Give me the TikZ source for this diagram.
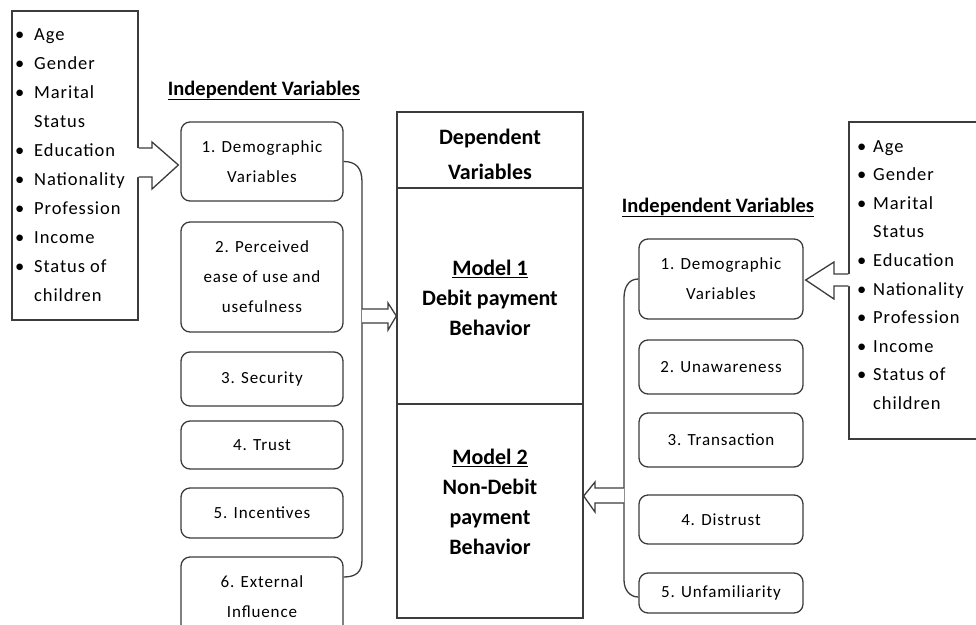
\documentclass[tikz,border=0pt]{standalone}
\usepackage{fontspec}
\setmainfont{Carlito}
\newfontfamily\lsfont{Carlito}[LetterSpace=5]
\usetikzlibrary{calc}
\definecolor{lc}{HTML}{3C3C3C}
\begin{document}
\begin{tikzpicture}[x=1pt,y=-1pt,
  lw/.style={draw=lc, line width=1.3pt},
  rbox/.style={lw, rounded corners=9pt, fill=white, inner sep=0pt, align=center,
    minimum width=#1, font=\lsfont\fontsize{17}{30}\selectfont},
  rbox/.default=162pt,
  mbox/.style={lw, minimum width=186pt, inner sep=0pt},
  btxt/.style={align=center, inner sep=0pt, font=\bfseries\fontsize{22}{30}\selectfont},
  head/.style={anchor=base, inner sep=0pt, font=\bfseries\fontsize{20.5}{24}\selectfont},
  list/.style={anchor=base west, inner sep=0pt, font=\lsfont\fontsize{18.5}{29.1}\selectfont},
  blk/.style={lw, line join=miter}
]
\useasboundingbox (0,0) rectangle (976,624);
\clip (0,0) rectangle (976,624);

% left bullet box
\node[lw, minimum width=126pt, minimum height=309pt, inner sep=0pt] (lbul) at (75,165.5) {};
\node[list] (ltxt) at (15,40) {\begin{tabular}[t]{@{}l@{}l@{}}
\makebox[19pt][l]{\textbullet} & Age\\
\textbullet & Gender\\
\textbullet & Marital\\
 & Status\\
\textbullet & Education\\
\textbullet & Nationality\\
\textbullet & Profession\\
\textbullet & Income\\
\textbullet & Status of\\
 & children
\end{tabular}};

% right bullet box
\node[lw, minimum width=150pt, minimum height=317pt, inner sep=0pt] (rbul) at (924,280.5) {};
\node[list, font=\lsfont\fontsize{18.5}{28.6}\selectfont] (rtxt) at (857,152) {\begin{tabular}[t]{@{}l@{}l@{}}
\makebox[16pt][l]{\textbullet} & Age\\
\textbullet & Gender\\
\textbullet & Marital\\
 & Status\\
\textbullet & Education\\
\textbullet & Nationality\\
\textbullet & Profession\\
\textbullet & Income\\
\textbullet & Status of\\
 & children
\end{tabular}};

% headings
\node[head] (lhead) at (264,95) {\underline{Independent Variables}};
\node[head] (rhead) at (718,212) {\underline{Independent Variables}};

% left boxes
\node[rbox, minimum height=79pt] (b1) at (262,161.5) {1. Demographic\\Variables};
\node[rbox, minimum height=110pt] (b2) at (262,277) {2. Perceived\\ease of use and\\usefulness};
\node[rbox, minimum height=54pt] (b3) at (262,379) {3. Security};
\node[rbox, minimum height=48pt] (b4) at (262,445) {4. Trust};
\node[rbox, minimum height=50pt] (b5) at (262,513) {5. Incentives};
\node[rbox, minimum height=80pt] (b6) at (262,597) {6. External\\Influence};

% right boxes
\node[rbox=164pt, minimum height=80pt] (r1) at (721,279) {1. Demographic\\Variables};
\node[rbox=164pt, minimum height=54pt] (r2) at (721,367) {2. Unawareness};
\node[rbox=164pt, minimum height=54pt] (r3) at (721,440) {3. Transaction};
\node[rbox=164pt, minimum height=49pt] (r4) at (721,519.5) {4. Distrust};
\node[rbox=164pt, minimum height=40pt] (r5) at (721,593) {5. Unfamiliarity};

% main box
\node[mbox, minimum height=76pt] (dv) at (490,150) {};
\node[mbox, minimum height=216pt] (m1) at (490,296) {};
\node[mbox, minimum height=214pt] (m2) at (490,511) {};
\node[btxt, font=\bfseries\fontsize{22}{35}\selectfont] (dvt) at ($(dv.center)+(0,4.5)$) {Dependent\\Variables};
\node[btxt] (m1t) at ($(m1.center)+(0,2)$) {\underline{Model 1}\\Debit payment\\Behavior};
\node[btxt] (m2t) at ($(m2.center)+(0,-9.5)$) {\underline{Model 2}\\Non-Debit\\payment\\Behavior};

% braces
\draw[lw] (b1.east) .. controls (356,161.5) and (362,168) .. (362,182) -- (362,560)
  .. controls (362,572) and (356,577) .. ($(b6.east)+(0,-20)$);
\draw[lw] (r1.west) .. controls (628,279) and (624,288) .. (624,298) -- (624,580)
  .. controls (624,590) and (630,597) .. ($(r5.west)+(0,4)$);

% block arrow: left list -> b1
\fill[white] (136,148) -- (152,148) -- (152,142) -- (b1.west |- 0,165) -- (152,189) -- (152,177) -- (136,177) -- cycle;
\draw[blk] (lbul.east |- 0,148) -- (152,148) -- (152,142) -- ($(b1.west |- 0,165)+(-2,0)$) -- (152,189) -- (152,177) -- (lbul.east |- 0,177);

% block arrow: right list -> r1
\fill[white] (851,274) -- (834,274) -- (834,262) -- (806,280) -- (834,299) -- (834,286) -- (851,286) -- cycle;
\draw[blk] (rbul.west |- 0,274) -- (834,274) -- (834,262) -- ($(r1.east |- 0,280)+(2,0)$) -- (834,299) -- (834,286) -- (rbul.west |- 0,286);

% block arrow: left brace -> Model 1
\draw[blk, fill=white] (362,309) -- (388,309) -- (388,303) -- (m1.west |- 0,316) -- (388,330) -- (388,323) -- (362,323);

% block arrow: right brace -> Model 2
\draw[blk, fill=white] (624,488) -- (595,488) -- (595,482) -- (m2.east |- 0,496) -- (595,512) -- (595,503) -- (624,503);
\end{tikzpicture}
\end{document}
